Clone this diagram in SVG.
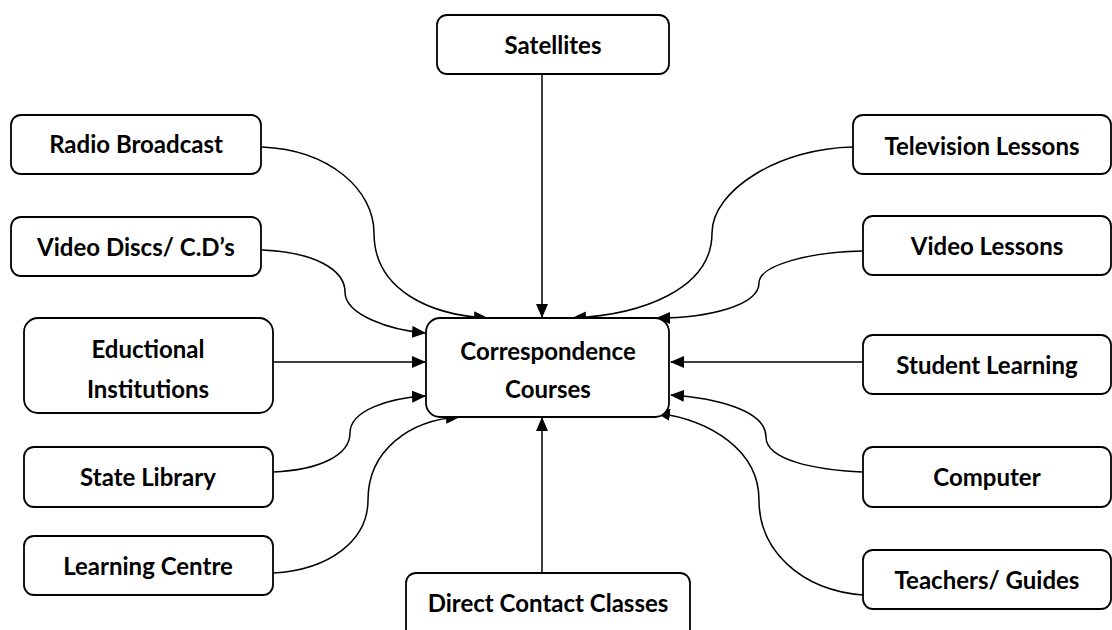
<svg xmlns="http://www.w3.org/2000/svg" width="1112" height="630" viewBox="0 0 1112 630">
<style>
.box{fill:#fff;stroke:#000;stroke-width:1.8}
.t{font-family:Lato,"Noto Sans",sans-serif;font-weight:bold;font-size:24px;fill:#000;text-anchor:middle;dominant-baseline:central}
.c{fill:none;stroke:#000;stroke-width:1.5;marker-end:url(#ah)}
</style>
<defs>
<marker id="ah" markerUnits="userSpaceOnUse" markerWidth="14" markerHeight="12" refX="13" refY="6" orient="auto">
<path d="M0,0 L14,6 L0,12 Z" fill="#000"/>
</marker>
</defs>
<rect width="1112" height="630" fill="#fff"/>
<g id="connectors">
<path class="c" d="M542,74 L542,317"/>
<path class="c" d="M542,573 L542,418"/>
<path class="c" d="M273,362 L425,362"/>
<path class="c" d="M863,362 L671,362"/>
<path class="c" d="M262,147 C330,150 374,190 374,233 C374,290 430,315 487,318"/>
<path class="c" d="M262,250 C315,252 345,270 345,292 C345,315 390,330 425,333"/>
<path class="c" d="M273,472 C320,470 350,455 350,433 C350,410 390,398 425,396"/>
<path class="c" d="M273,573 C330,570 368,540 368,500 C368,450 410,420 459,417"/>
<path class="c" d="M853,147 C780,148 712,190 712,233 C712,290 640,315 573,318"/>
<path class="c" d="M863,251 C810,252 759,265 759,283 C759,305 710,318 657,318"/>
<path class="c" d="M863,472 C815,470 766,460 766,437 C766,410 715,398 671,395"/>
<path class="c" d="M863,595 C800,590 759,550 759,500 C759,450 710,420 657,413"/>
</g>
<g id="center"><rect class="box" x="426" y="318" width="243" height="99" rx="14"/><text class="t" x="548" y="350">Correspondence</text><text class="t" x="548" y="388">Courses</text></g>
<g id="satellites"><rect class="box" x="437" y="15" width="232" height="59" rx="10"/><text class="t" x="553" y="44">Satellites</text></g>
<g id="radio"><rect class="box" x="11" y="115" width="250" height="59" rx="10"/><text class="t" x="136" y="143">Radio Broadcast</text></g>
<g id="videodiscs"><rect class="box" x="11" y="217" width="250" height="59" rx="10"/><text class="t" x="136" y="246">Video Discs/ C.D’s</text></g>
<g id="edu"><rect class="box" x="24" y="318" width="249" height="95" rx="14"/><text class="t" x="148" y="348">Eductional</text><text class="t" x="148" y="388">Institutions</text></g>
<g id="library"><rect class="box" x="24" y="447" width="249" height="60" rx="10"/><text class="t" x="148" y="476">State Library</text></g>
<g id="learning"><rect class="box" x="24" y="536" width="249" height="59" rx="10"/><text class="t" x="148" y="565">Learning Centre</text></g>
<g id="direct"><rect class="box" x="406" y="573" width="284" height="70" rx="10"/><text class="t" x="548" y="602">Direct Contact Classes</text></g>
<g id="television"><rect class="box" x="853" y="115" width="258" height="59" rx="10"/><text class="t" x="982" y="145">Television Lessons</text></g>
<g id="videolessons"><rect class="box" x="863" y="216" width="248" height="59" rx="10"/><text class="t" x="987" y="245">Video Lessons</text></g>
<g id="student"><rect class="box" x="863" y="335" width="248" height="59" rx="10"/><text class="t" x="987" y="364">Student Learning</text></g>
<g id="computer"><rect class="box" x="863" y="447" width="248" height="60" rx="10"/><text class="t" x="987" y="476">Computer</text></g>
<g id="teachers"><rect class="box" x="863" y="550" width="248" height="59" rx="10"/><text class="t" x="987" y="579">Teachers/ Guides</text></g>
</svg>
